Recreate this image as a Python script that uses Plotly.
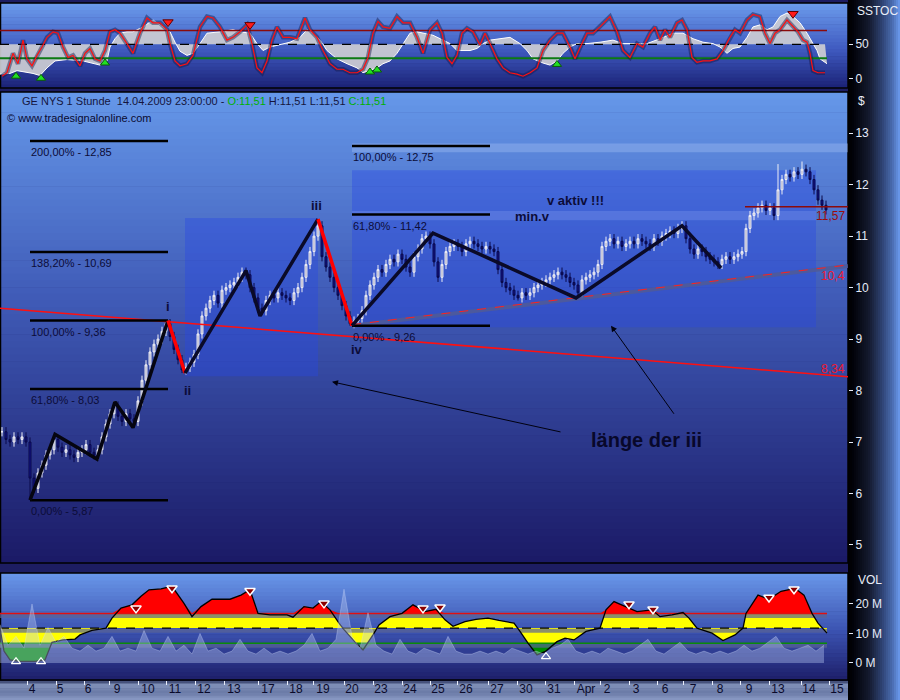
import numpy as np
import plotly.graph_objects as go

W, H = 900, 700
PLOT_R = 848  # right edge of the panels in px

## GE NYS 1 Stunde, 3 Mar - 14 Apr 2009
## x unit = quarter hour slot, one hourly bar = 4 slots
CLOSE = [
    7.20, 7.05, 7.00, 7.10, 7.05, 7.10, 7.00, 6.30, 6.10, 6.40,
    6.55, 6.75, 6.85, 7.05, 6.90, 6.80, 6.85, 6.75, 6.70, 6.80,
    6.85, 6.95, 6.80, 6.75, 6.85, 7.10, 7.35, 7.55, 7.70, 7.50,
    7.40, 7.55, 7.45, 7.40, 7.80, 8.20, 8.50, 8.75, 8.90, 9.00,
    9.15, 9.30, 9.05, 8.80, 8.60, 8.40, 8.45, 8.55, 8.70, 9.10,
    9.45, 9.60, 9.75, 9.85, 9.70, 9.95, 10.00, 10.05, 10.10, 10.20,
    10.30, 10.25, 10.00, 9.80, 9.60, 9.55, 9.75, 9.85, 9.80, 9.90,
    9.85, 9.80, 9.75, 9.90, 10.00, 10.20, 10.45, 10.70, 11.00, 11.20,
    10.60, 10.40, 10.20, 10.00, 9.85, 9.65, 9.45, 9.30, 9.35, 9.40,
    9.55, 9.85, 10.05, 10.20, 10.35, 10.30, 10.45, 10.55, 10.50, 10.65,
    10.55, 10.40, 10.30, 10.60, 10.75, 10.95, 11.00, 10.85, 10.50, 10.20,
    10.45, 10.70, 10.80, 10.85, 10.80, 10.70, 10.85, 10.90, 10.85, 10.80,
    10.75, 10.80, 10.75, 10.70, 10.35, 10.10, 10.00, 9.95, 9.85, 9.80,
    9.90, 9.85, 9.90, 10.00, 10.05, 10.10, 10.15, 10.20, 10.25, 10.30,
    10.25, 10.20, 10.10, 10.05, 9.90, 10.15, 10.20, 10.25, 10.30, 10.45,
    10.80, 10.90, 10.95, 10.85, 10.90, 10.80, 10.85, 10.90, 10.85, 10.95,
    10.90, 10.85, 10.80, 10.95, 10.90, 11.00, 11.05, 11.10, 11.05, 11.15,
    11.20, 10.95, 10.75, 10.65, 10.75, 10.70, 10.60, 10.55, 10.50, 10.45,
    10.55, 10.60, 10.55, 10.60, 10.65, 10.70, 11.15, 11.40, 11.45, 11.55,
    11.60, 11.50, 11.55, 11.40, 11.90, 12.10, 12.20, 12.15, 12.25, 12.20,
    12.30, 12.25, 12.10, 11.90, 11.70, 11.60, 11.51,
]
EXTREME_LOW = {7: 5.87, 45: 8.34, 87: 9.26, 129: 9.75}
EXTREME_HIGH = {41: 9.36, 79: 11.33, 194: 12.40, 200: 12.45}

DAY_LABELS = ['4', '5', '6', '9', '10', '11', '12', '13', '17', '18', '19', '20', '23', '24',
              '25', '26', '27', '30', '31', 'Apr', '2', '3', '6', '7', '8', '9', '13', '14', '15']
DAY_LABEL_POS = [32, 60, 88, 117, 148, 175, 204, 234, 268, 296, 323, 352, 381, 410,
                 438, 466, 497, 526, 554, 586, 607, 636, 665, 693, 720, 749, 778, 809, 837]
DAY_TICK_POS = [27, 56, 84, 109, 138, 166, 195, 224, 258, 287, 313, 344, 373, 402,
                430, 457, 488, 517, 545, 574, 600, 629, 657, 683, 712, 740, 769, 801, 829]

# Elliott count
WAVE_BLACK_1_X = [30, 55, 97, 115, 133, 168]
WAVE_BLACK_1_Y = [5.87, 7.15, 6.67, 7.78, 7.28, 9.36]
WAVE_RED_1_X = [168, 185]
WAVE_RED_1_Y = [9.36, 8.34]
WAVE_BLACK_2_X = [185, 246, 260, 318]
WAVE_BLACK_2_Y = [8.34, 10.33, 9.45, 11.33]
WAVE_RED_2_X = [318, 352]
WAVE_RED_2_Y = [11.33, 9.26]
WAVE_BLACK_3_X = [352, 433, 576, 682, 721]
WAVE_BLACK_3_Y = [9.26, 11.06, 9.80, 11.20, 10.38]

FIB_LEFT = [12.85, 10.69, 9.36, 8.03, 5.87]
FIB_LEFT_TXT = ['200,00% - 12,85', '138,20% - 10,69', '100,00% - 9,36', '61,80% - 8,03', '0,00% - 5,87']
FIB_RIGHT = [12.75, 11.42, 9.26]
FIB_RIGHT_TXT = ['100,00% - 12,75', '61,80% - 11,42', '0,00% - 9,26']

# Slow stochastic (red %K and smoothed white line)
STOCH_K_X = [2, 7, 13, 18, 23, 27, 32, 37, 42, 47, 53, 58, 63, 68, 73, 80, 85, 90, 95, 100,
             105, 110, 115, 120, 127, 133, 140, 147, 153, 160, 167, 170, 175, 180, 187, 193, 200, 207, 213, 220,
             227, 233, 240, 247, 252, 257, 262, 267, 272, 277, 283, 290, 297, 305, 310, 317, 323, 330, 337, 343,
             350, 357, 363, 368, 373, 378, 383, 390, 397, 403, 410, 417, 423, 430, 437, 442, 447, 452, 457, 462,
             467, 473, 480, 485, 490, 497, 503, 510, 517, 523, 530, 537, 543, 550, 557, 563, 570, 575, 580, 587,
             593, 600, 610, 617, 623, 630, 637, 643, 650, 655, 660, 665, 670, 677, 682, 687, 692, 697, 703, 710,
             717, 723, 730, 735, 740, 747, 753, 760, 765, 770, 775, 780, 787, 793, 798, 803, 807, 810, 813, 818, 825]
STOCH_K = [4, 9, 37, 22, 56, 29, 19, 34, 46, 60, 68, 66, 46, 31, 34, 19, 37, 44, 29, 26,
           41, 68, 71, 66, 51, 37, 66, 88, 81, 81, 71, 51, 26, 19, 22, 34, 75, 90, 88, 75,
           56, 60, 68, 78, 51, 16, 9, 26, 56, 75, 60, 60, 58, 88, 71, 60, 41, 22, 14, 14,
           9, 9, 14, 31, 66, 83, 75, 73, 90, 81, 81, 60, 37, 71, 81, 66, 31, 22, 34, 66,
           73, 68, 49, 66, 51, 29, 16, 9, 7, 4, 9, 16, 41, 56, 66, 66, 46, 29, 45, 66,
           66, 75, 90, 68, 41, 31, 51, 46, 66, 75, 56, 71, 60, 81, 85, 71, 31, 24, 26, 26,
           29, 41, 60, 71, 66, 85, 93, 90, 66, 51, 66, 71, 85, 75, 68, 56, 53, 37, 12, 9, 9]
STOCH_D_X = [0, 10, 17, 25, 33, 40, 47, 55, 67, 83, 93, 100, 107, 110, 115, 120, 127, 133, 143, 153,
             163, 170, 175, 180, 187, 193, 200, 207, 220, 233, 240, 250, 257, 263, 270, 280, 290, 300, 307, 313,
             320, 327, 337, 347, 357, 363, 370, 377, 383, 390, 397, 403, 410, 417, 423, 433, 443, 450, 457, 463,
             470, 477, 483, 490, 500, 510, 520, 527, 533, 543, 550, 557, 563, 570, 577, 587, 600, 613, 623, 633,
             647, 660, 673, 683, 693, 703, 713, 720, 727, 733, 740, 747, 753, 760, 767, 773, 780, 787, 793, 800,
             807, 813, 817, 820, 827]
STOCH_D = [7, 8, 12, 10, 8, 5, 16, 26, 28, 26, 23, 20, 26, 46, 58, 66, 68, 68, 75, 85,
           75, 68, 53, 40, 34, 37, 51, 66, 68, 71, 68, 66, 51, 41, 46, 49, 53, 60, 71, 66,
           56, 41, 29, 22, 16, 9, 12, 16, 22, 26, 37, 51, 66, 68, 66, 63, 56, 51, 41, 41,
           41, 44, 51, 56, 58, 60, 51, 41, 29, 23, 20, 26, 37, 46, 51, 51, 53, 56, 51, 51,
           51, 58, 66, 66, 58, 53, 51, 46, 37, 44, 46, 60, 75, 78, 71, 75, 90, 95, 90, 81,
           66, 51, 41, 29, 22]
STOCH_BUY_X = [16, 41, 105, 370, 377, 557]
STOCH_BUY_Y = [4, 1, 23, 10, 13, 21]
STOCH_SELL_X = [168, 250, 793]
STOCH_SELL_Y = [82, 78, 94]

# Volume (millions): raw hourly volume and its moving average
VOL_X = list(range(0, 832, 8))
VOL = [13, 6, 9, 5, 20, 6, 12, 7, 9, 5, 4, 6, 4, 5, 9, 4, 5, 4, 11, 5,
       4, 9, 4, 6, 3, 10, 4, 5, 3, 4, 8, 4, 3, 5, 3, 4, 3, 4, 6, 10,
       4, 5, 8, 25, 9, 5, 17, 6, 4, 3, 8, 4, 3, 5, 4, 3, 9, 4, 3, 3,
       4, 3, 4, 3, 5, 4, 3, 4, 3, 5, 6, 8, 4, 3, 4, 3, 5, 4, 3, 4,
       6, 8, 4, 3, 5, 7, 4, 3, 4, 3, 4, 3, 4, 6, 4, 5, 7, 9, 5, 4,
       5, 6, 4, 6]
VOL_MA_X = [0, 4, 10, 20, 35, 45, 52, 63, 75, 80, 92, 106, 112, 121, 132, 141, 149, 161, 172, 184,
            192, 201, 212, 230, 241, 250, 258, 270, 287, 293, 304, 313, 321, 330, 339, 344, 356, 363, 373, 379,
            390, 402, 413, 425, 436, 445, 453, 465, 476, 488, 499, 514, 520, 528, 537, 545, 557, 565, 574, 586,
            600, 606, 614, 626, 637, 652, 660, 672, 683, 689, 697, 712, 723, 735, 743, 746, 758, 769, 781, 795,
            804, 812, 818, 827]
VOL_MA = [11.8, 4, 1, 0.5, 0.5, 1, 7, 7.8, 8.1, 9.5, 11, 11.8, 15.2, 18.6, 19.7, 22.6, 24.8, 25.1, 26, 20.2,
          15.7, 19.1, 21.6, 21.6, 23, 24.8, 16.8, 16.3, 16.3, 15.5, 19.1, 18.6, 20.8, 18, 13.5, 11.3, 6.7, 4.4, 9.5, 12.9,
          15.7, 16.8, 19.7, 17.4, 18.2, 14.6, 12.4, 14, 14.8, 15.2, 14.4, 13.5, 10.7, 6.7, 2.7, 3.8, 7.2, 8.4, 7.8, 10.7,
          11.8, 18, 20.8, 19.1, 17.4, 18, 15.7, 16.3, 17.1, 15.2, 11.8, 10.1, 7.6, 9.5, 11.8, 16.8, 23, 21.6, 24.3, 25.3,
          23, 16.8, 13.5, 10.1]
VOL_UPPER, VOL_MID, VOL_LOWER = 16.8, 11.8, 6.7
VOL_SELL_X = [136, 172, 250, 324, 423, 440, 629, 653, 769, 794]
VOL_SELL_Y = [18.5, 25.3, 24.5, 20.2, 18.5, 18.9, 19.9, 18.2, 22.2, 25.0]
VOL_BUY_X = [16, 41, 546]
VOL_BUY_Y = [0.4, 0.4, 2.1]

# ---- candles
x_bar = [4 * i + 2 for i in range(len(CLOSE))]
opens = [CLOSE[0]] + CLOSE[:-1]
WICK = 0.09
highs = [max(o, c) + WICK for o, c in zip(opens, CLOSE)]
lows = [min(o, c) - WICK for o, c in zip(opens, CLOSE)]
for k, v in EXTREME_LOW.items():
    lows[k] = v
for k, v in EXTREME_HIGH.items():
    highs[k] = v

FONT = 'Liberation Sans'
DARK = '#0c0c38'

fig = go.Figure()

# ---- stochastic panel
last = STOCH_K_X[-1]
fig.add_trace(go.Scatter(x=[0, last], y=[50, 50], mode='lines', line=dict(width=0), yaxis='y', hoverinfo='skip'))
fig.add_trace(go.Scatter(x=STOCH_D_X, y=STOCH_D, mode='lines', fill='tonexty',
                         fillcolor='rgba(205,205,210,0.92)', line=dict(color='white', width=1), yaxis='y'))
for lvl, col, dash, w in [(70, '#8b0a0a', 'solid', 1.5), (50, '#000000', 'dash', 1.2), (30, '#0b7a12', 'solid', 2)]:
    fig.add_trace(go.Scatter(x=[0, last + 2], y=[lvl, lvl], mode='lines',
                             line=dict(color=col, width=w, dash=dash), yaxis='y'))
fig.add_trace(go.Scatter(x=STOCH_K_X, y=STOCH_K, mode='lines', line=dict(color='rgba(20,25,70,0.45)', width=4.5),
                         yaxis='y'))
fig.add_trace(go.Scatter(x=STOCH_K_X, y=STOCH_K, mode='lines', line=dict(color='#ff1010', width=1.2), yaxis='y'))
fig.add_trace(go.Scatter(x=STOCH_BUY_X, y=STOCH_BUY_Y, mode='markers', yaxis='y',
                         marker=dict(symbol='triangle-up', size=8, color='#22e022', line=dict(color='#0a5a0a', width=1))))
fig.add_trace(go.Scatter(x=STOCH_SELL_X, y=STOCH_SELL_Y, mode='markers', yaxis='y',
                         marker=dict(symbol='triangle-down', size=9, color='#ff1a1a', line=dict(color='#600000', width=1))))

# ---- main price panel
fig.add_trace(go.Scatter(x=[0, PLOT_R], y=[9.60, 8.27], mode='lines', line=dict(color='#ff1010', width=1.5), yaxis='y2'))
fig.add_trace(go.Scatter(x=[352, PLOT_R], y=[9.26, 10.42], mode='lines',
                         line=dict(color='rgba(80,90,150,0.85)', width=4), yaxis='y2'))
fig.add_trace(go.Scatter(x=[352, PLOT_R], y=[9.28, 10.44], mode='lines',
                         line=dict(color='#ff2020', width=1, dash='dash'), yaxis='y2'))
fig.add_trace(go.Scatter(x=[745, PLOT_R], y=[11.57, 11.57], mode='lines',
                         line=dict(color='#8b0a0a', width=1.6), yaxis='y2'))
for lvl in FIB_LEFT:
    fig.add_trace(go.Scatter(x=[30, 168], y=[lvl, lvl], mode='lines', line=dict(color='#000000', width=2.5), yaxis='y2'))
for lvl in FIB_RIGHT:
    fig.add_trace(go.Scatter(x=[352, 490], y=[lvl, lvl], mode='lines', line=dict(color='#000000', width=2.5), yaxis='y2'))

fig.add_trace(go.Candlestick(
    x=x_bar, open=opens, high=highs, low=lows, close=CLOSE, yaxis='y2',
    increasing=dict(line=dict(color='#eeeef6', width=1), fillcolor='#a8a8c0'),
    decreasing=dict(line=dict(color='#0a0a4a', width=1), fillcolor='#12128a'),
    whiskerwidth=0))

for xs, ys, col in [(WAVE_BLACK_1_X, WAVE_BLACK_1_Y, '#050510'), (WAVE_RED_1_X, WAVE_RED_1_Y, '#ff0000'),
                    (WAVE_BLACK_2_X, WAVE_BLACK_2_Y, '#0a0a28'), (WAVE_RED_2_X, WAVE_RED_2_Y, '#ff0000'),
                    (WAVE_BLACK_3_X, WAVE_BLACK_3_Y, '#0a0a28')]:
    fig.add_trace(go.Scatter(x=xs, y=ys, mode='lines', line=dict(color=col, width=3.5), yaxis='y2'))

# ---- volume panel
vlast = VOL_MA_X[-1]
ma = np.array(VOL_MA)
fig.add_trace(go.Scatter(x=[0, vlast], y=[VOL_MID, VOL_MID], mode='lines', line=dict(width=0), yaxis='y3'))
fig.add_trace(go.Scatter(x=VOL_MA_X, y=VOL_MA, mode='lines', fill='tonexty', fillcolor='#ffff00',
                         line=dict(width=0), yaxis='y3'))
fig.add_trace(go.Scatter(x=[0, vlast], y=[VOL_UPPER, VOL_UPPER], mode='lines', line=dict(width=0), yaxis='y3'))
fig.add_trace(go.Scatter(x=VOL_MA_X, y=np.maximum(ma, VOL_UPPER), mode='lines', fill='tonexty',
                         fillcolor='#ff0000', line=dict(width=0), yaxis='y3'))
fig.add_trace(go.Scatter(x=[0, vlast], y=[VOL_LOWER, VOL_LOWER], mode='lines', line=dict(width=0), yaxis='y3'))
fig.add_trace(go.Scatter(x=VOL_MA_X, y=np.minimum(ma, VOL_LOWER), mode='lines', fill='tonexty',
                         fillcolor='#008a00', line=dict(width=0), yaxis='y3'))
for lvl, col, dash, w in [(VOL_UPPER, '#e01010', 'solid', 1.5), (VOL_MID, '#000000', 'dash', 1.2),
                          (VOL_LOWER, '#0a8a0a', 'solid', 1.5)]:
    fig.add_trace(go.Scatter(x=[0, vlast], y=[lvl - 0.9, lvl - 0.9], mode='lines',
                             line=dict(color='rgba(90,100,150,0.7)', width=4), yaxis='y3'))
    fig.add_trace(go.Scatter(x=[0, vlast], y=[lvl, lvl], mode='lines',
                             line=dict(color=col, width=w, dash=dash), yaxis='y3'))
fig.add_trace(go.Scatter(x=VOL_MA_X, y=VOL_MA, mode='lines', line=dict(color='#000000', width=1.3), yaxis='y3'))
fig.add_trace(go.Scatter(x=VOL_X, y=VOL, mode='lines', fill='tozeroy', fillcolor='rgba(190,205,245,0.38)',
                         line=dict(color='rgba(215,225,255,0.5)', width=0.6), yaxis='y3'))
fig.add_trace(go.Scatter(x=VOL_SELL_X, y=VOL_SELL_Y, mode='markers', yaxis='y3',
                         marker=dict(symbol='triangle-down', size=9, color='#8b0000', line=dict(color='white', width=1.5))))
fig.add_trace(go.Scatter(x=VOL_BUY_X, y=VOL_BUY_Y, mode='markers', yaxis='y3',
                         marker=dict(symbol='triangle-up-open', size=8, color='white', line=dict(width=1.2))))


# ---- backgrounds (gradients drawn as thin bands)
def hexrgb(h):
    return np.array([int(h[i:i + 2], 16) for i in (1, 3, 5)], dtype=float)


def grad_color(stops, t):
    for (t0, c0), (t1, c1) in zip(stops[:-1], stops[1:]):
        if t0 <= t <= t1:
            f = (t - t0) / (t1 - t0)
            c = hexrgb(c0) * (1 - f) + hexrgb(c1) * f
            return 'rgb(%d,%d,%d)' % tuple(c)
    return stops[-1][1]


def vbands(y0, y1, stops, n, x0=0, x1=PLOT_R):
    out = []
    for k in range(n):
        ya = y0 + (y1 - y0) * k / n
        yb = y0 + (y1 - y0) * (k + 1) / n + 0.6
        out.append(dict(type='rect', xref='paper', yref='paper', layer='below',
                        x0=x0 / W, x1=x1 / W, y0=1 - yb / H, y1=1 - ya / H,
                        fillcolor=grad_color(stops, (k + 0.5) / n), line=dict(width=0)))
    return out


def hbands(x0, x1, stops, n, y0=0, y1=H):
    out = []
    for k in range(n):
        xa = x0 + (x1 - x0) * k / n
        xb = x0 + (x1 - x0) * (k + 1) / n + 0.6
        out.append(dict(type='rect', xref='paper', yref='paper', layer='below',
                        x0=xa / W, x1=min(xb, W) / W, y0=1 - y1 / H, y1=1 - y0 / H,
                        fillcolor=grad_color(stops, (k + 0.5) / n), line=dict(width=0)))
    return out


shapes = []
shapes += vbands(3, 88, [(0, '#6c9cec'), (0.55, '#3f5ac0'), (1, '#1b2276')], 24)
shapes += vbands(92, 563, [(0, '#6698ea'), (0.45, '#3f5ab6'), (1, '#1b1a66')], 70)
shapes += vbands(573, 680, [(0, '#6a98ea'), (0.55, '#3b52b0'), (1, '#1e1f6a')], 28)
shapes += vbands(681, 700, [(0, '#2a3560'), (0.2, '#8494bc'), (0.6, '#6a7aa6'), (1, '#8c9cc6')], 8, 0, W)
shapes += hbands(PLOT_R, W, [(0, '#000000'), (0.1, '#02030a'), (0.4, '#141a2e'), (0.65, '#2e4272'),
                             (0.85, '#4a6cb0'), (1, '#6c9cf0')], 26)
for y0, y1 in [(3, 88), (92, 563), (573, 680)]:
    shapes.append(dict(type='rect', xref='paper', yref='paper', x0=0.5 / W, x1=PLOT_R / W,
                       y0=1 - y1 / H, y1=1 - y0 / H, line=dict(color='#000000', width=1.5), layer='below'))

# translucent boxes in the price panel
for x0, x1, y0, y1, col in [(185, 318, 8.28, 11.35, 'rgba(40,70,230,0.38)'),
                            (352, 816, 9.23, 12.28, 'rgba(40,70,230,0.38)'),
                            (352, PLOT_R, 12.63, 12.80, 'rgba(170,195,245,0.35)'),
                            (352, 816, 11.31, 11.49, 'rgba(140,165,245,0.28)')]:
    shapes.append(dict(type='rect', xref='x', yref='y2', x0=x0, x1=x1, y0=y0, y1=y1,
                       fillcolor=col, line=dict(width=0), layer='below'))

# ---- texts
ann = []


def txt(x, y, s, size=11, color=DARK, bold=False, xanchor='center', yanchor='middle', yref='y2', xref='x'):
    ann.append(dict(x=x, y=y, xref=xref, yref=yref, text='<b>%s</b>' % s if bold else s, showarrow=False,
                    xanchor=xanchor, yanchor=yanchor, font=dict(family=FONT, size=size, color=color)))


for lvl, s in zip(FIB_LEFT, FIB_LEFT_TXT):
    txt(29, lvl - 0.06, s, xanchor='left', yanchor='top')
for lvl, s in zip(FIB_RIGHT, FIB_RIGHT_TXT):
    txt(351, lvl - 0.06, s, xanchor='left', yanchor='top')

txt(168, 9.64, 'i', size=13, bold=True)
txt(187, 8.00, 'ii', size=13, bold=True)
txt(316, 11.60, 'iii', size=13, bold=True)
txt(357, 8.79, 'iv', size=13, bold=True)
txt(575, 11.70, 'v aktiv !!!', size=13, bold=True)
txt(532, 11.39, 'min.v', size=13, bold=True)
txt(646, 7.04, 'länge der iii', size=20, bold=True, color='#08082a')
txt(PLOT_R - 1, 11.40, '11,57', size=12, color='#9a0c0c', xanchor='right')
txt(PLOT_R - 1, 10.22, '10,4', size=12, color='#f01830', xanchor='right')
txt(PLOT_R - 1, 8.42, '8,34', size=12, color='#f01830', xanchor='right')

header = ('GE NYS 1 Stunde &nbsp;14.04.2009 23:00:00 - <span style="color:#00b000">O:11,51</span> '
          'H:11,51 L:11,51 <span style="color:#00b000">C:11,51</span>')
txt(20 / W, 1 - 101 / H, header, xref='paper', yref='paper', xanchor='left', color='#15153e')
txt(5 / W, 1 - 118 / H, '© www.tradesignalonline.com', xref='paper', yref='paper', xanchor='left', color='#0a0a30')
txt(855 / W, 1 - 11 / H, 'SSTOC', size=12, color='#e8eef8', xref='paper', yref='paper', xanchor='left')
txt(856 / W, 1 - 101 / H, '$', size=12, color='#e8eef8', xref='paper', yref='paper', xanchor='left')
txt(856 / W, 1 - 580 / H, 'VOL', size=12, color='#e8eef8', xref='paper', yref='paper', xanchor='left')

# arrows
for hx, hy, tx, ty in [(332, 8.17, 562, 7.19), (611, 9.26, 675, 7.52)]:
    ann.append(dict(x=hx, y=hy, ax=tx, ay=ty, xref='x', yref='y2', axref='x', ayref='y2', text='',
                    showarrow=True, arrowhead=2, arrowsize=1.2, arrowwidth=1, arrowcolor='#000010'))

tick_font = dict(family=FONT, size=12, color='#e4eaf8')
yax = dict(side='right', anchor='x', showgrid=False, zeroline=False, ticks='outside', ticklen=4,
           tickcolor='#e4eaf8', tickfont=tick_font, showline=False, tickmode='array', fixedrange=True)

fig.update_layout(
    width=W, height=H, margin=dict(l=0, r=0, t=0, b=0),
    paper_bgcolor='#1d1d62', plot_bgcolor='rgba(0,0,0,0)',
    showlegend=False, shapes=shapes, annotations=ann,
    xaxis=dict(domain=[0, PLOT_R / W], range=[0, PLOT_R], anchor='y3', showgrid=False, zeroline=False,
               tickmode='array', tickvals=DAY_LABEL_POS, ticktext=DAY_LABELS, ticks='',
               tickfont=dict(family=FONT, size=12, color='#0a0a2a'),
               minor=dict(tickmode='array', tickvals=DAY_TICK_POS, ticks='outside', ticklen=4,
                          tickcolor='#e8ecf8', showgrid=False),
               rangeslider=dict(visible=False), showline=False),
    yaxis=dict(domain=[1 - 88 / H, 1 - 3 / H], range=[-13, 109.5], tickvals=[0, 50], **yax),
    yaxis2=dict(domain=[1 - 563 / H, 1 - 92 / H], range=[4.65, 13.8], tickvals=list(range(5, 14)), **yax),
    yaxis3=dict(domain=[1 - 680 / H, 1 - 573 / H], range=[-5.8, 30.5], tickvals=[0, 10, 20],
                ticktext=['0 M', '10 M', '20 M'], **yax),
)

# page body has a default 8px margin; remove it so the figure fills the window
fig.write_html('out.html', config={'displayModeBar': False},
               post_script="document.body.style.margin='0px';")
